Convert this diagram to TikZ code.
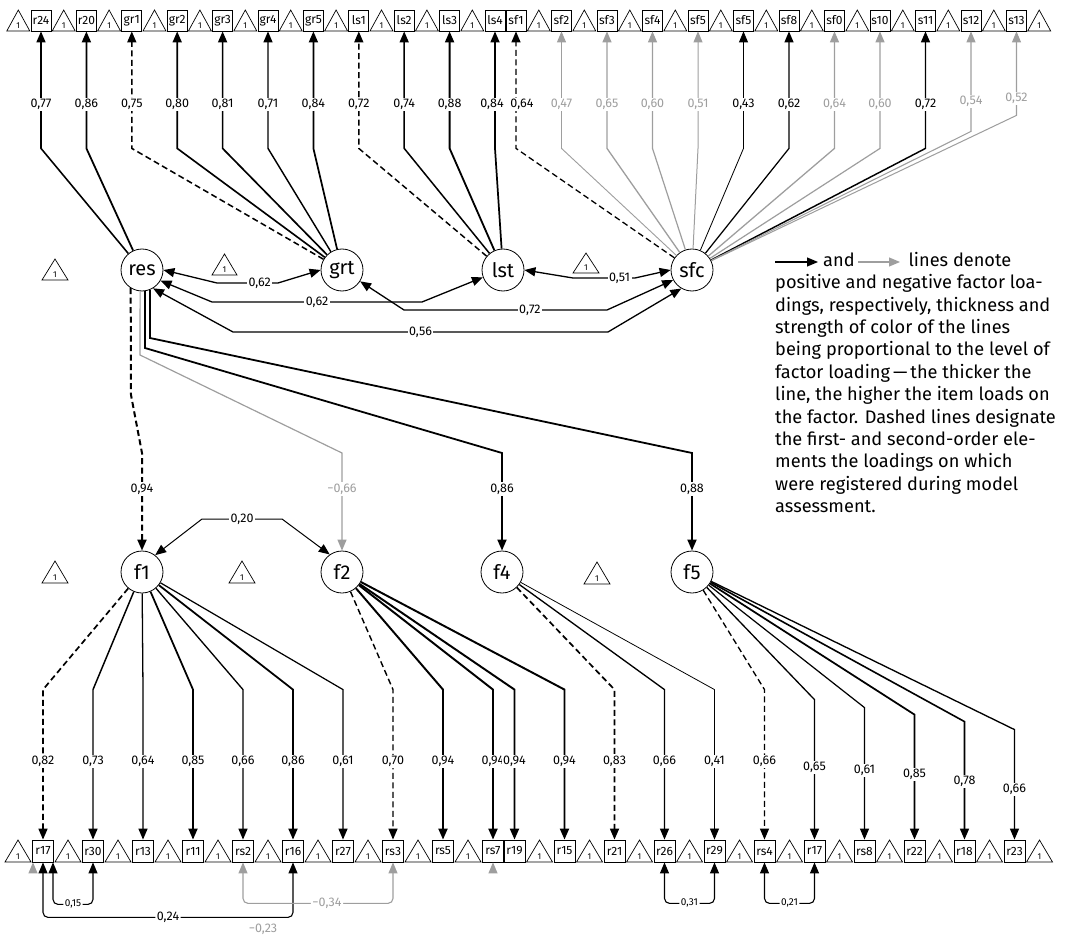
\documentclass[tikz,border=0pt]{standalone}
\usepackage{fontspec}
\setmainfont{Fira Sans}
\usetikzlibrary{arrows.meta}

\colorlet{neg}{black!38}

\tikzset{
  tip/.style={-{Triangle[length=11pt,width=9pt]}},
  item/.style={draw, line width=0.8pt, minimum width=20pt, minimum height=21pt, inner sep=1pt, font=\fontsize{12}{12}\selectfont},
  latent/.style={draw, circle, line width=0.8pt, minimum size=42pt, inner sep=0pt, font=\fontsize{20}{20}\selectfont},
  val/.style={fill=white, inner sep=1.5pt, font=\fontsize{12.5}{12.5}\selectfont},
  small/.style={font=\fontsize{10}{10}\selectfont},
  ldk/.style={tip, color=black},
  ldd/.style={tip, color=black, dash pattern=on 6pt off 3.5pt},
  ldg/.style={tip, color=neg},
  lcov/.style={{Triangle[length=11pt,width=9pt]}-{Triangle[length=11pt,width=9pt]}, line width=1.3pt},
  cov/.style={lcov, rounded corners=5pt, line width=1.1pt},
  one/.style={font=\fontsize{8.5}{8.5}\selectfont, inner sep=0pt}
}

% intercept triangle: name, x, base y, half width, height
\newcommand\icpt[5]{%
  \draw[line width=0.7pt] (#2-#4,#3) -- (#2,#3-#5) -- (#2+#4,#3) -- cycle;
  \node[one] (#1) at (#2,#3-5.5) {1};}

\begin{document}
\begin{tikzpicture}[x=1pt,y=-1pt]
\useasboundingbox (0,0) rectangle (1066,936);

% observed items, top row
\foreach \nm/\txt/\x in {t01/r24/41, t02/r20/86.4, t03/gr1/131.8, t04/gr2/177.2, t05/gr3/222.6,
  t06/gr4/268, t07/gr5/313.4, t08/ls1/358.8, t09/ls2/404.2, t10/ls3/449.6, t11/ls4/495,
  t12/sf1/516, t13/sf2/561.5, t14/sf3/607, t15/sf4/652.5, t16/sf5/698, t17/sf5/743.5,
  t18/sf8/789, t19/sf0/834.5, t20/s10/880, t21/s11/925.5, t22/s12/971, t23/s13/1016.5}
  \node[item] (\nm) at (\x,20.5) {\txt};
\foreach \x [count=\i] in {18.3,63.7,109.1,154.5,199.9,245.3,290.7,336.1,381.5,426.9,472.3,
  538.8,584.3,629.8,675.3,720.8,766.3,811.8,857.3,902.8,948.3,993.8,1039.2}
  {\icpt{ti\i}{\x}{31}{11.5}{21}}

% observed items, bottom row
\foreach \nm/\txt/\x in {b01/r17/43, b02/r30/93, b03/r13/143, b04/r11/193, b05/rs2/243,
  b06/r16/293, b07/r27/343, b08/rs3/393, b09/rs5/443, b10/rs7/493, b11/r19/514.5,
  b12/r15/564.5, b13/r21/614.5, b14/r26/664.5, b15/r29/714.5, b16/rs4/764.5, b17/r17/814.5,
  b18/rs8/864.5, b19/r22/914.5, b20/r18/964.5, b21/r23/1014.5}
  \node[item, minimum width=21pt, minimum height=22pt] (\nm) at (\x,851) {\txt};
\foreach \x [count=\i] in {18,68,118,168,218,268,318,368,418,468,
  539.5,589.5,639.5,689.5,739.5,789.5,839.5,889.5,939.5,989.5,1039.5}
  {\icpt{bi\i}{\x}{862}{13}{22}}

% factors
\node[latent] (res) at (142,270) {res};
\node[latent] (grt) at (342,270) {grt};
\node[latent] (lst) at (503,270) {lst};
\node[latent] (sfc) at (692,270) {sfc};
\node[latent] (f1) at (142,572) {f1};
\node[latent] (f2) at (342,572) {f2};
\node[latent] (f4) at (502,572) {f4};
\node[latent] (f5) at (692,572) {f5};
\icpt{m1}{55}{280}{13}{21}
\icpt{m2}{224.5}{275}{12.5}{21}
\icpt{m3}{586}{273}{13}{20}
\icpt{m4}{55}{583}{13}{22}
\icpt{m5}{242}{583}{13}{22}
\icpt{m6}{597}{584}{13}{22}

% loadings, top
\foreach \src/\dst/\v/\sty/\yb/\ly/\xs in {res/t01/77/ldk/148/104/0, res/t02/86/ldk/148/104/0,
  grt/t03/75/ldd/148/104/0, grt/t04/80/ldk/148/104/0, grt/t05/81/ldk/148/104/0,
  grt/t06/71/ldk/148/104/0, grt/t07/84/ldk/148/104/0, lst/t08/72/ldd/148/104/0,
  lst/t09/74/ldk/148/104/0, lst/t10/88/ldk/148/104/0, lst/t11/84/ldk/148/104/-3,
  sfc/t12/64/ldd/148/104/6, sfc/t13/47/ldg/148/104/0, sfc/t14/65/ldg/148/104/0,
  sfc/t15/60/ldg/148/104/0, sfc/t16/51/ldg/148/104/0, sfc/t17/43/ldk/148/104/0,
  sfc/t18/62/ldk/148/104/0, sfc/t19/64/ldg/148/104/0, sfc/t20/60/ldg/148/104/0,
  sfc/t21/72/ldk/148/104/0, sfc/t22/54/ldg/131/101/0, sfc/t23/52/ldg/115/98/0}{
  \pgfmathsetmacro\lw{0.022*\v-0.12}
  \pgfmathsetmacro\dy{\yb-31}
  \pgfmathsetmacro\p{(\yb-\ly)/(\yb-31)}
  \draw[\sty, line width=\lw pt] (\src) -- ([yshift=-\dy pt]\dst.south)
    -- node[val, pos=\p, xshift=\xs pt] {0,\v} (\dst.south);
}

% loadings, bottom
\foreach \src/\dst/\v/\sty/\yb/\ly in {f1/b01/82/ldd/690/762, f1/b02/73/ldk/690/762,
  f1/b03/64/ldk/690/762, f1/b04/85/ldk/690/762, f1/b05/66/ldk/690/762,
  f1/b06/86/ldk/690/762, f1/b07/61/ldk/690/762, f2/b08/70/ldd/690/762,
  f2/b09/94/ldk/690/762, f2/b10/94/ldk/690/762, f2/b11/94/ldk/690/762,
  f2/b12/94/ldk/690/762, f4/b13/83/ldd/690/762, f4/b14/66/ldk/690/762,
  f4/b15/41/ldk/690/762, f5/b16/66/ldd/690/762, f5/b17/65/ldk/700/768,
  f5/b18/61/ldk/708/771, f5/b19/85/ldk/715/775, f5/b20/78/ldk/722/782,
  f5/b21/66/ldk/730/790}{
  \pgfmathsetmacro\lw{0.022*\v-0.12}
  \pgfmathsetmacro\dy{840-\yb}
  \pgfmathsetmacro\p{(\ly-\yb)/(840-\yb)}
  \draw[\sty, line width=\lw pt] (\src) -- ([yshift=\dy pt]\dst.north)
    -- node[val, pos=\p] {0,\v} (\dst.north);
}

% second order
\draw[ldd, line width=2pt] (res.238) -- (131,395) -- (142,453) -- node[val, pos=0.37] {0,94} (f1.north);
\draw[ldg, line width=1.2pt] (res.265) -- (140,355) -- (342,453) -- node[val, pos=0.37] {−0,66} (f2.north);
\draw[ldk, line width=1.8pt] (res.278) -- (145,348) -- (502,453) -- node[val, pos=0.37] {0,86} (f4.north);
\draw[ldk, line width=1.8pt] (res.292) -- (150,338) -- (692,453) -- node[val, pos=0.37] {0,88} (f5.north);

% factor correlations
\draw[lcov] (res.east) -- (217,283) -- node[val, pos=0.7] {0,62} (278,283) -- (grt.west);
\draw[lcov] (res.-30) -- (212,302) -- node[val] {0,62} (422,302) -- (lst.200);
\draw[lcov] (grt.-32) -- (404,310) -- node[val, pos=0.62] {0,72} (607,310) -- (sfc.208);
\draw[lcov] (res.-59) -- (233,332) -- node[val] {0,56} (608,332) -- (sfc.240);
\draw[lcov] (lst.east) -- (573,278) -- node[val, pos=0.75] {0,51} (635,278) -- (sfc.west);
\draw[lcov, line width=1pt] (f1.52) -- (202,519) -- node[val] {0,20} (282,519) -- (f2.125);

% residual correlations
\draw[cov] ([xshift=10pt]b01.south) |- node[val, small, pos=0.75] {0,15} ([yshift=-42pt]b02.south) -- (b02.south);
\draw[cov] (b01.south) |- node[val, pos=0.75] {0,24} ([yshift=-55pt]b06.south) -- (b06.south);
\draw[cov, color=neg] (b05.south) |- node[val, pos=0.78] {−0,34} ([yshift=-41pt]b08.south) -- (b08.south);
\draw[cov, draw=white, {Triangle[length=11pt,width=9pt,color=neg]}-{Triangle[length=11pt,width=9pt,color=neg]}]
  ([xshift=-10pt]b01.south) |- node[val, text=neg, pos=0.75] {−0,23} ([yshift=-67pt]b10.south) -- (b10.south);
\draw[cov] (b14.south) |- node[val, small, pos=0.75] {0,31} ([yshift=-41pt]b15.south) -- (b15.south);
\draw[cov] (b16.south) |- node[val, small, pos=0.75] {0,21} ([yshift=-41pt]b17.south) -- (b17.south);

% legend
\node[anchor=north west, align=left, inner sep=0pt, font=\fontsize{18.2}{22.4}\selectfont] (note) at (775,252)
  {\hspace*{48pt}and\hspace*{54pt}lines denote\\
   positive and negative factor loa-\\
   dings, respectively, thickness and\\
   strength of color of the lines\\
   being proportional to the level of\\
   factor loading\,—\,the thicker the\\
   line, the higher the item loads on\\
   the factor. Dashed lines designate\\
   the first- and second-order ele-\\
   ments the loadings on which\\
   were registered during model\\
   assessment.};
\coordinate (kb0) at (775,262);
\coordinate (kb1) at (818,262);
\coordinate (kg0) at (858,262);
\coordinate (kg1) at (900,262);
\draw[ldk, line width=1.1pt] (kb0) -- (kb1);
\draw[ldg, line width=1.1pt] (kg0) -- (kg1);
\end{tikzpicture}
\end{document}
